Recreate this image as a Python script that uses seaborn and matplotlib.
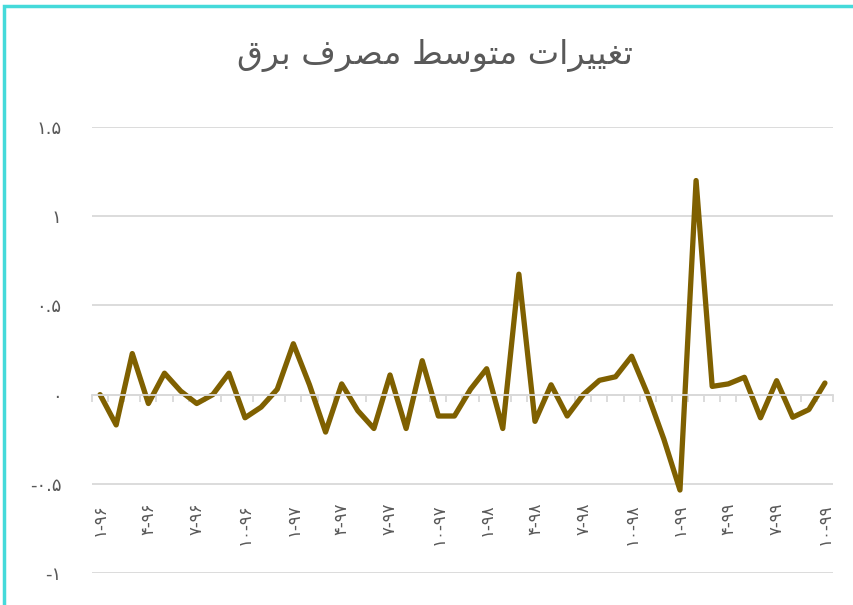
import numpy as np
import pandas as pd
import matplotlib
matplotlib.use('Agg')
import matplotlib.pyplot as plt
from matplotlib.patches import Rectangle
import seaborn as sns

# monthly change in average electricity use, 1-96 .. 10-99
years = ['96', '97', '98', '99']
changes = [0.00, -0.17, 0.23, -0.05, 0.12, 0.02, -0.05, 0.00, 0.12, -0.13, -0.07, 0.03,
           0.285, 0.055, -0.21, 0.06, -0.09, -0.19, 0.11, -0.19, 0.19, -0.12, -0.12, 0.03,
           0.145, -0.19, 0.675, -0.15, 0.055, -0.12, 0.00, 0.08, 0.10, 0.215, 0.00, -0.25,
           -0.535, 1.20, 0.046, 0.06, 0.097, -0.13, 0.078, -0.127, -0.084, 0.065]
label_months = [1, 4, 7, 10]
y_ticks = [-1, -0.5, 0, 0.5, 1, 1.5]
y_labels = ['-۱', '-۰.۵', '۰', '۰.۵', '۱', '۱.۵']

# title is "تغییرات متوسط مصرف برق" -- written with presentation forms in visual order
# since matplotlib does no arabic shaping
title = ('\uFED5\uFEAE\uFE91' + ' ' + '\uFED1\uFEAE\uFEBC\uFEE3' + ' '
         + '\uFEC2\uFEB3\uFEEE\uFE98\uFEE3' + ' '
         + '\uFE95\uFE8D\uFEAE\uFEF4\uFEF4\uFED0\uFE97')

fa = str.maketrans('0123456789', '۰۱۲۳۴۵۶۷۸۹')

df = pd.DataFrame({'idx': np.arange(len(changes)), 'change': changes})

sns.set_style('white')
plt.rcParams['font.family'] = ['DejaVu Sans']

fig = plt.figure(figsize=(8.54, 6.05), dpi=100)
ax = fig.add_axes([92/854, 1 - 573/605, (833 - 92)/854, (573 - 127)/605])

sns.lineplot(data=df, x='idx', y='change', color='#7F6000', linewidth=3.8, ax=ax)

ax.set_xlim(-0.5, len(changes) - 0.5)
ax.set_ylim(-1, 1.5)
ax.set_yticks(y_ticks)
ax.set_yticklabels(y_labels, color='#595959', fontsize=13)
ax.tick_params(axis='y', length=0, pad=22)
ax.grid(axis='y', color='#d9d9d9', linewidth=1.3)
ax.set_axisbelow(True)

# category axis sits on zero, labels every third month
ax.spines['bottom'].set_position(('data', 0))
ax.spines['bottom'].set_color('#d9d9d9')
ax.spines['bottom'].set_linewidth(1.3)
for s in ['top', 'right', 'left']:
    ax.spines[s].set_visible(False)
ax.set_xticks(np.arange(len(changes) + 1) - 0.5)
ax.set_xticklabels([])
ax.tick_params(axis='x', which='major', bottom=True, direction='out',
               length=5, width=1.3, color='#d9d9d9')
pos = [i for i in range(len(changes)) if i % 3 == 0]
labels = [(str(label_months[(i % 12) // 3]) + '-' + years[i // 12]).translate(fa) for i in pos]
ax.set_xticks(pos, minor=True)
ax.set_xticklabels(labels, minor=True, rotation=90, color='#595959', fontsize=12)
ax.tick_params(axis='x', which='minor', bottom=True, length=0, pad=78)
ax.set_xlabel('')
ax.set_ylabel('')

fig.text(435/854, 1 - 56/605, title, ha='center', va='center', fontsize=24, color='#595959')

fig.add_artist(Rectangle((4/854, -0.1), 2, 1 - 6/605 + 0.1, transform=fig.transFigure,
                         fill=False, edgecolor='#45DADA', linewidth=2.5))

fig.savefig('out.png', dpi=100)
